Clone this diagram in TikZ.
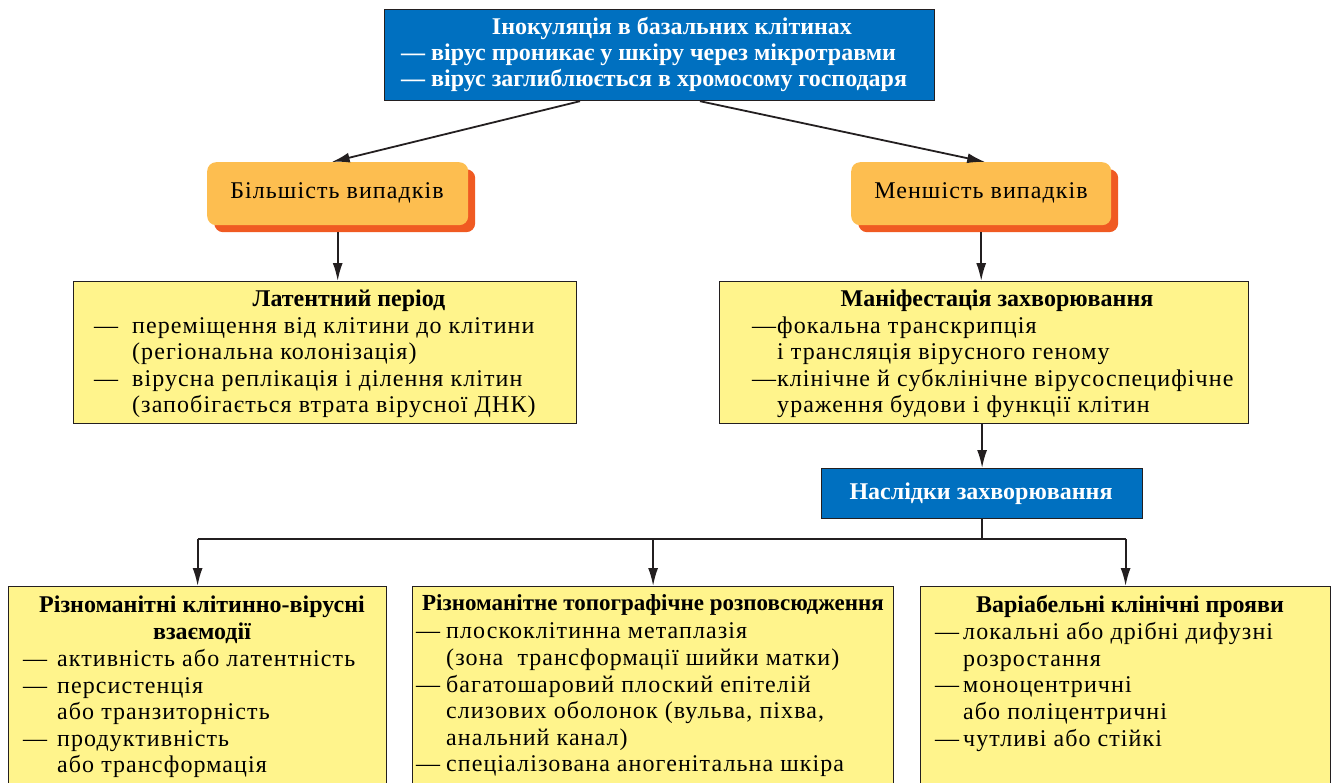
\documentclass[tikz,border=0pt]{standalone}
\usepackage{fontspec}
\setmainfont{Liberation Serif}
\newfontfamily\bodyfont[LetterSpace=4.5]{Liberation Serif}
\usetikzlibrary{arrows.meta}
\definecolor{hblue}{RGB}{0,112,192}
\definecolor{hyel}{RGB}{255,244,140}
\definecolor{horange}{RGB}{253,190,80}
\definecolor{hred}{RGB}{240,90,34}
\definecolor{hline}{RGB}{35,31,32}
\newcommand\dsh[1]{\makebox[#1][l]{—}}
\tikzset{
 bluebox/.style={draw=hline, line width=1.2pt, fill=hblue, inner sep=0pt, anchor=north west},
 yelbox/.style={draw=hline, line width=1.2pt, fill=hyel, inner sep=0pt, anchor=north west},
 ovalbox/.style={fill=horange, rounded corners=9pt, inner sep=0pt, anchor=north west},
 shadowbox/.style={fill=hred, rounded corners=9pt, inner sep=0pt, anchor=north west},
 txt/.style={anchor=base west, inner sep=0pt, font=\fontsize{24}{26.5}\bodyfont},
 ctxt/.style={anchor=base, inner sep=0pt, font=\fontsize{24}{26.5}\bodyfont},
 ttl/.style={anchor=base, inner sep=0pt, font=\fontsize{24}{26.5}\selectfont\bfseries},
 wtxt/.style={anchor=base west, inner sep=0pt, text=white, font=\fontsize{24}{26.5}\selectfont\bfseries},
 wctxt/.style={anchor=base, inner sep=0pt, text=white, font=\fontsize{24}{26.5}\selectfont\bfseries},
 conn/.style={line width=1.8pt, draw=hline},
 arr/.style={conn, -{Latex[length=18pt,width=10pt]}},
}
\begin{document}
\begin{tikzpicture}[x=1pt,y=-1pt]
\useasboundingbox (0,0) rectangle (1336,782);
\clip (0,0) rectangle (1336,782);
% top box
\node[bluebox, minimum width=550pt, minimum height=91pt] (top) at (384,9) {};
\node[wctxt] (top1) at (672,34) {Інокуляція в базальних клітинах};
\node[wtxt] (top2) at (401,60) {— вірус проникає у шкіру через мікротравми};
\node[wtxt] (top3) at (401,86) {— вірус заглиблюється в хромосому господаря};
% orange boxes
\node[shadowbox, minimum width=261pt, minimum height=63pt] (bilsh) at (214,169) {};
\node[ovalbox, minimum width=261pt, minimum height=63pt] (bil) at (207,162) {};
\node[ctxt] (bilt) at (337,198) {Більшість випадків};
\node[shadowbox, minimum width=260pt, minimum height=63pt] (mensh) at (858,169) {};
\node[ovalbox, minimum width=260pt, minimum height=63pt] (mens) at (851,162) {};
\node[ctxt] (menst) at (981,198) {Меншість випадків};
% latent box
\node[yelbox, minimum width=503pt, minimum height=142pt] (lat) at (73,281) {};
\node[ttl] (latt) at (349,306) {Латентний період};
\node[txt] (lat1) at (94,333) {\dsh{38pt}переміщення від клітини до клітини};
\node[txt] (lat2) at (132,359) {(регіональна колонізація)};
\node[txt] (lat3) at (94,386) {\dsh{38pt}вірусна реплікація і ділення клітин};
\node[txt] (lat4) at (132,412) {(запобігається втрата вірусної ДНК)};
% manifest box
\node[yelbox, minimum width=529pt, minimum height=142pt] (man) at (719,281) {};
\node[ttl] (mant) at (997,306) {Маніфестація захворювання};
\node[txt] (man1) at (752,333) {\dsh{25pt}фокальна транскрипція};
\node[txt] (man2) at (777,359) {і трансляція вірусного геному};
\node[txt] (man3) at (752,386) {\dsh{25pt}клінічне й субклінічне вірусоспецифічне};
\node[txt] (man4) at (777,412) {ураження будови і функції клітин};
% consequences
\node[bluebox, minimum width=321pt, minimum height=50pt] (nas) at (821,468) {};
\node[wctxt] (nast) at (981,499) {Наслідки захворювання};
% bottom boxes
\node[yelbox, minimum width=378pt, minimum height=230pt] (b1) at (8,586) {};
\node[ttl] (b1t) at (202,612) {Різноманітні клітинно-вірусні};
\node[ttl] (b1u) at (202,639) {взаємодії};
\node[txt] (b11) at (23,666) {\dsh{34pt}активність або латентність};
\node[txt] (b12) at (23,693) {\dsh{34pt}персистенція};
\node[txt] (b13) at (57,719) {або транзиторність};
\node[txt] (b14) at (23,746) {\dsh{34pt}продуктивність};
\node[txt] (b15) at (57,772) {або трансформація};
\node[yelbox, minimum width=481pt, minimum height=230pt] (b2) at (412,586) {};
\node[ttl, font=\fontsize{23}{26.5}\selectfont\bfseries] (b2t) at (653,610) {Різноманітне топографічне розповсюдження};
\node[txt] (b21) at (416,638) {\dsh{30pt}плоскоклітинна метаплазія};
\node[txt] (b22) at (446,665) {(зона\ \ трансформації шийки матки)};
\node[txt] (b23) at (416,692) {\dsh{30pt}багатошаровий плоский епітелій};
\node[txt] (b24) at (446,718) {слизових оболонок (вульва, піхва,};
\node[txt] (b25) at (446,745) {анальний канал)};
\node[txt] (b26) at (416,771) {\dsh{30pt}спеціалізована аногенітальна шкіра};
\node[yelbox, minimum width=410pt, minimum height=230pt] (b3) at (920,586) {};
\node[ttl] (b3t) at (1130,612) {Варіабельні клінічні прояви};
\node[txt] (b31) at (935,639) {\dsh{28pt}локальні або дрібні дифузні};
\node[txt] (b32) at (963,666) {розростання};
\node[txt] (b33) at (935,692) {\dsh{28pt}моноцентричні};
\node[txt] (b34) at (963,719) {або поліцентричні};
\node[txt] (b35) at (935,746) {\dsh{28pt}чутливі або стійкі};
% connectors
\draw[arr] ([xshift=196pt]top.south west) -- ([xshift=-6pt]bil.north);
\draw[arr] ([xshift=316pt]top.south west) -- ([xshift=4pt]mens.north);
\draw[arr] (bil.south |- bilsh.south) -- (bil.south |- lat.north);
\draw[arr] (mens.south |- mensh.south) -- (mens.south |- man.north);
\draw[arr] (man.south -| nas.north) -- (nas.north);
\draw[conn] (nas.south) -- ++(0,20) coordinate (hub);
\draw[conn] (b1.north |- hub) -- (b3.north |- hub);
\draw[arr] (b1.north |- hub) -- (b1.north);
\draw[arr] (b2.north |- hub) -- (b2.north);
\draw[arr] (b3.north |- hub) -- (b3.north);
\end{tikzpicture}
\end{document}
